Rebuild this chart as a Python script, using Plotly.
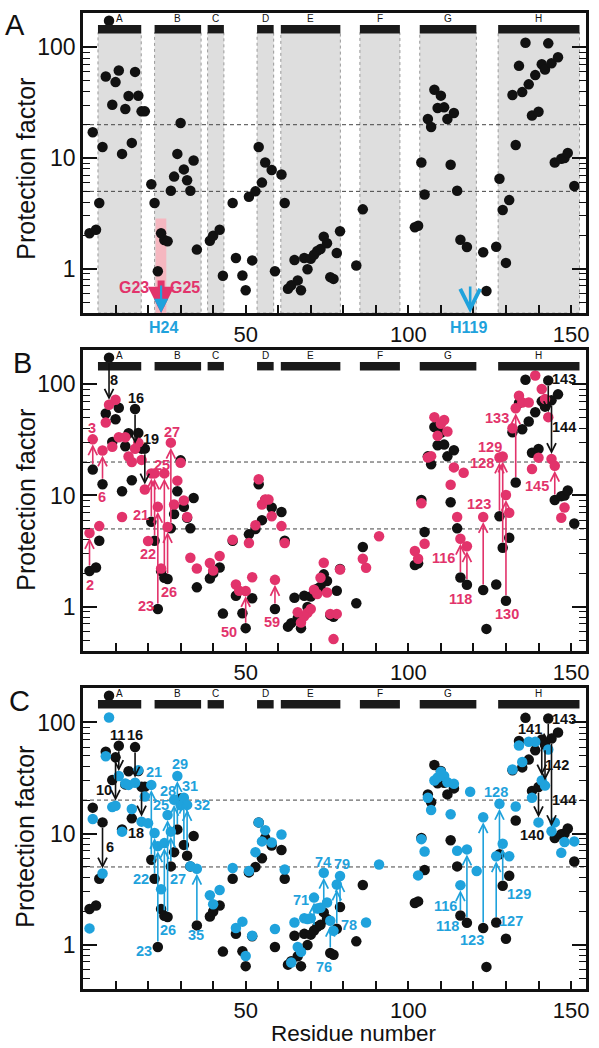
import math
import plotly.graph_objects as go

# ---------------- data ----------------
# wild type (black) protection factors, shared by all panels
wt_res = [2, 3, 4, 5, 6, 7, 8, 9, 10, 11, 12, 13, 14, 15, 16, 17, 18, 19, 21, 22,
          23, 24, 25, 26, 27, 28, 29, 30, 31, 32, 33, 34, 35, 39, 40, 42, 43, 46, 47, 49,
          50, 51, 52, 53, 54, 55, 56, 58, 59, 61, 62, 63, 64, 65, 66, 67, 68, 69, 70, 71,
          72, 73, 74, 75, 76, 77, 78, 79, 84, 86, 102, 103, 104, 105, 106, 107, 108, 109, 110, 111,
          112, 113, 114, 115, 116, 118, 123, 124, 127, 128, 129, 130, 131, 132, 133, 134, 135, 136, 137, 138,
          139, 140, 141, 142, 143, 144, 145, 146, 147, 148, 149, 151]
wt_pf = [2.09, 17.1, 2.25, 3.92, 12.6, 54.6, 174, 30.3, 48.5, 61.7, 10.9, 27.7, 36.3, 13.7, 60, 36.5, 26.4, 26.4, 5.8, 3.92,
         0.95, 2.09, 1.82, 1.77, 5.06, 6.8, 10.9, 20.7, 7.9, 6.3, 5.06, 9.5, 1.49, 1.79, 1.99, 2.25, 0.865, 3.92, 1.25, 0.87,
         0.64, 4.47, 1.19, 5.0, 12.6, 6.0, 9.1, 7.8, 0.95, 7.1, 3.92, 0.66, 0.71, 1.2, 0.785, 0.64, 1.25, 0.99, 1.23, 1.34,
         1.45, 1.51, 1.95, 1.7, 0.84, 0.81, 1.39, 2.18, 1.07, 3.44, 2.37, 2.45, 9.1, 4.69, 22.5, 19.1, 41.4, 28.3, 36.6, 28.7,
         22.5, 8.7, 25.5, 5.06, 1.83, 1.57, 1.41, 0.63, 1.58, 6.5, 3.39, 1.13, 4.17, 37.1, 13.1, 68, 39.4, 110, 46.3, 24.2,
         56.1, 26.2, 70.3, 63, 108.6, 71.8, 9.1, 81.3, 9.86, 10.0, 11.1, 5.6]

# panel B variant (pink)
b_res = [2, 3, 5, 6, 7, 8, 9, 10, 11, 12, 13, 14, 15, 16, 17, 18, 19, 20, 21, 22,
         23, 24, 25, 26, 27, 28, 29, 30, 31, 32, 33, 35, 39, 40, 42, 46, 47, 48, 50, 51,
         52, 53, 54, 55, 56, 57, 58, 59, 61, 62, 66, 67, 68, 69, 70, 71, 72, 73, 74, 75,
         76, 77, 78, 79, 86, 87, 91, 102, 103, 104, 105, 106, 107, 108, 109, 110, 111, 112, 113, 114,
         115, 116, 117, 118, 123, 128, 129, 130, 131, 132, 133, 134, 135, 137, 138, 139, 140, 141, 142, 143,
         144, 145, 147, 148]
b_pf = [4.6, 32, 5.3, 25.4, 45.4, 65.5, 27.5, 72.7, 33.4, 6.4, 33.4, 22.4, 20, 26.3, 29.9, 20.9, 11.3, 3.9, 15.8, 15.8,
        7.9, 2.2, 15.8, 5.2, 29.9, 8.3, 13.6, 19.7, 9.0, 6.4, 2.75, 2.2, 2.47, 2.11, 2.85, 4.0, 1.58, 1.39, 1.38, 3.73,
        1.84, 5.4, 14, 8.3, 9.2, 9.2, 6.5, 1.74, 5.3, 3.73, 0.89, 0.72, 0.82, 0.88, 0.95, 1.42, 1.3, 1.82, 2.48, 1.34,
        0.86, 0.51, 0.86, 2.16, 2.7, 2.24, 4.3, 3.16, 2.7, 8.5, 3.68, 22, 22.6, 50.7, 34.4, 44.2, 47.8, 37.6, 12.5, 17.9,
        6.4, 4.08, 16, 3.49, 6.4, 22, 22.4, 10.1, 7.0, 40.3, 61, 79, 68.7, 68.7, 17.3, 120, 21.9, 90.7, 73.7, 50.7,
        21.3, 18.5, 6.3, 7.8]

# panel C variant (blue)
c_res = [2, 3, 6, 7, 8, 9, 10, 11, 12, 13, 14, 15, 16, 17, 18, 19, 20, 21, 22, 23,
         24, 25, 26, 27, 28, 29, 30, 31, 32, 33, 35, 39, 40, 42, 46, 47, 49, 50, 51, 52,
         53, 54, 55, 56, 58, 59, 61, 62, 64, 65, 66, 67, 68, 69, 70, 71, 72, 73, 74, 75,
         76, 77, 78, 79, 87, 91, 103, 104, 105, 106, 107, 108, 109, 110, 111, 112, 113, 114, 115, 116,
         118, 119, 121, 123, 127, 128, 129, 131, 132, 133, 134, 135, 137, 138, 139, 140, 141, 142, 143, 144,
         145, 147, 148, 151]
c_pf = [1.4, 13.5, 4.37, 49.6, 111, 17.3, 17.8, 32.9, 10.4, 28.2, 27.4, 16.6, 28.7, 37.2, 12.8, 21.5, 12.4, 27.4, 10.1, 7.7,
        3.15, 8.2, 14.7, 10.4, 20.1, 32.9, 18, 21, 18.1, 5.08, 4.82, 2.78, 2.31, 3.1, 4.9, 1.41, 1.61, 0.79, 4.6, 1.2,
        6.8, 12.6, 8.5, 10.7, 8.3, 1.38, 9.8, 4.75, 0.69, 1.58, 0.95, 0.86, 1.73, 1.7, 1.73, 2.65, 2.11, 2.15, 4.44, 2.39,
        1.64, 1.33, 3.48, 4.14, 1.58, 5.26, 4.2, 8.9, 6.9, 21, 16.3, 30, 32, 36, 33, 29, 14.9, 28, 7.0, 3.43,
        7.2, 23.8, 4.6, 14, 6.25, 18.5, 8.1, 6.25, 37.7, 17.5, 62, 44, 67, 21, 67, 12.6, 30, 27, 57, 10.5,
        12.6, 6.7, 8.4, 8.5]

# helices
helix_names = ["A", "B", "C", "D", "E", "F", "G", "H"]
helix_start = [4.6, 22.0, 38.3, 53.5, 60.8, 85.1, 103.5, 127.6]
helix_end = [17.9, 36.3, 43.3, 58.6, 79.1, 97.4, 120.9, 152.6]

# dashed thresholds
thresholds = [20, 5]

# arrows (residues) : up = variant colour, down = black
b_up = [2, 3, 6, 21, 22, 23, 25, 26, 27, 50, 59, 116, 118, 123, 128, 129, 130, 133, 145]
b_down = [8, 16, 19, 143, 144]
c_up = [21, 22, 23, 25, 26, 27, 28, 29, 31, 32, 35, 71, 74, 76, 78, 79, 116, 118, 123, 127, 128, 129]
c_down = [6, 10, 11, 16, 18, 140, 141, 142, 143, 144]

# panel A markers
mark_res_pink = 24
mark_res_blue = [24, 119]
pink_box = (22.3, 25.6, 2.85)

# ---------------- layout helpers (label placement: residue, log10 y) ----------------
LBL_B = {8: (9.5, 2.04), 16: (16.4, 1.877), 19: (21.0, 1.506), 143: (147.8, 2.048), 144: (147.8, 1.62),
         2: (2.0, 0.19), 3: (2.9, 1.605), 6: (5.7, 0.988), 21: (17.9, 0.822), 22: (19.9, 0.476),
         23: (19.4, 0.009), 25: (24.3, 1.274), 26: (26.4, 0.13), 27: (27.3, 1.575), 50: (45.0, -0.226),
         59: (58.0, -0.14), 116: (110.8, 0.437), 118: (116.1, 0.069), 123: (121.6, 0.922),
         128: (122.7, 1.289), 129: (125.0, 1.434), 130: (130.2, -0.066), 133: (127.3, 1.696),
         145: (139.4, 1.084)}
LBL_C = {6: (8.2, 0.879), 10: (6.3, 1.392), 11: (10.7, 1.89), 16: (16.0, 1.89), 18: (16.4, 1.004),
         140: (138.1, 0.99), 141: (137.4, 1.943), 142: (145.7, 1.62), 143: (147.8, 2.027), 144: (147.8, 1.30),
         21: (21.7, 1.556), 22: (17.9, 0.593), 23: (18.7, -0.054), 25: (24.0, 1.255), 26: (26.1, 0.134),
         27: (29.3, 0.593), 28: (26.1, 1.386), 29: (29.9, 1.63), 31: (33.0, 1.428), 32: (36.5, 1.258),
         35: (34.8, 0.086), 71: (67.0, 0.40), 74: (73.8, 0.74), 76: (74.1, -0.198), 78: (81.7, 0.175),
         79: (79.6, 0.726), 116: (111.5, 0.349), 118: (112.0, 0.17), 123: (119.5, 0.045),
         127: (131.7, 0.209), 128: (126.8, 1.377), 129: (134.0, 0.453)}

FONT = "Arial, 'Liberation Sans', Helvetica, sans-serif"
PINK = "#E2336B"
BLUE = "#1FA2DC"
BLACK = "#111111"
GRAY = "#DEDEDE"
X_RANGE = [0, 154.6]
Y_RANGE = [-0.4, 2.31]
DOMAINS = {1: [0.6932, 1.0], 2: [0.3476, 0.6555], 3: [0.002, 0.3098]}

fig = go.Figure()


def ax_names(i):
    s = "" if i == 1 else str(i)
    return "x" + s, "y" + s


wt = dict(zip(wt_res, wt_pf))
pb = dict(zip(b_res, b_pf))
pc = dict(zip(c_res, c_pf))

annotations = []
shapes = []

for i in (1, 2, 3):
    xa, ya = ax_names(i)
    for t in thresholds:
        fig.add_trace(go.Scatter(x=X_RANGE, y=[t, t], mode="lines", xaxis=xa, yaxis=ya,
                                 line=dict(color="#444444", width=1, dash="4px,3px"),
                                 hoverinfo="skip", showlegend=False))
    fig.add_trace(go.Scatter(x=wt_res, y=wt_pf, mode="markers", xaxis=xa, yaxis=ya,
                             marker=dict(size=10.5, color=BLACK), showlegend=False))
    if i == 2:
        fig.add_trace(go.Scatter(x=b_res, y=b_pf, mode="markers", xaxis=xa, yaxis=ya,
                                 marker=dict(size=10.5, color=PINK), showlegend=False))
    if i == 3:
        fig.add_trace(go.Scatter(x=c_res, y=c_pf, mode="markers", xaxis=xa, yaxis=ya,
                                 marker=dict(size=10.5, color=BLUE), showlegend=False))

    # helix bars and letters
    for name, s, e in zip(helix_names, helix_start, helix_end):
        if i == 1:
            shapes.append(dict(type="rect", xref=xa, yref=ya + " domain", x0=s, x1=e, y0=0, y1=0.935,
                               fillcolor=GRAY, line=dict(color="#9a9a9a", width=1, dash="dot"),
                               layer="below"))
        shapes.append(dict(type="rect", xref=xa, yref=ya + " domain", x0=s, x1=e, y0=0.932, y1=0.960,
                           fillcolor="#1a1a1a", line=dict(width=0), layer="above"))
        annotations.append(dict(x=(s + e) / 2, y=0.958, xref=xa, yref=ya + " domain", text=name,
                                yanchor="bottom", showarrow=False,
                                font=dict(size=10, color="#111", family=FONT)))


def add_arrows(i, ups, downs, var, color, labels):
    xa, ya = ax_names(i)
    for group, col in ((ups, color), (downs, "#111111")):
        for r in group:
            annotations.append(dict(x=r, y=math.log10(var[r]), ax=r, ay=math.log10(wt[r]),
                                    xref=xa, yref=ya, axref=xa, ayref=ya, text="", showarrow=True,
                                    arrowhead=5, arrowsize=1.1, arrowwidth=1.6, arrowcolor=col,
                                    standoff=5, startstandoff=4))
            lx, ly = labels[r]
            annotations.append(dict(x=lx, y=ly, xref=xa, yref=ya, text="<b>%d</b>" % r, showarrow=False,
                                    font=dict(size=14.5, color=col, family=FONT)))


add_arrows(2, b_up, b_down, pb, PINK, LBL_B)
add_arrows(3, c_up, c_down, pc, BLUE, LBL_C)

# panel A highlights
shapes.append(dict(type="rect", xref="x", yref="y", x0=pink_box[0], x1=pink_box[1], y0=0.3,
                   y1=pink_box[2], fillcolor="#F5B7C0", line=dict(width=0), layer="below"))
annotations.append(dict(x=mark_res_pink, y=Y_RANGE[0], xref="x", yref="y", ax=0, ay=-34, text="",
                        showarrow=True, arrowhead=2, arrowsize=0.75, arrowwidth=7, arrowcolor=PINK))
annotations.append(dict(x=mark_res_blue[0], y=Y_RANGE[0], xref="x", yref="y", ax=0, ay=-29, text="",
                        showarrow=True, arrowhead=2, arrowsize=1.3, arrowwidth=2.2, arrowcolor=BLUE))
annotations.append(dict(x=mark_res_blue[1], y=Y_RANGE[0], xref="x", yref="y", ax=0, ay=-28, text="",
                        showarrow=True, arrowhead=5, arrowsize=1.5, arrowwidth=2.6, arrowcolor=BLUE))
annotations.append(dict(x=24.8, y=0.689, xref="x", yref="paper", text="<b>H24</b>", showarrow=False,
                        font=dict(size=16, color=BLUE, family=FONT)))
annotations.append(dict(x=118.4, y=0.689, xref="x", yref="paper", text="<b>H119</b>", showarrow=False,
                        font=dict(size=16, color=BLUE, family=FONT)))
annotations.append(dict(x=15.6, y=-0.17, xref="x", yref="y", text="<b>G23</b>", showarrow=False,
                        font=dict(size=16, color=PINK, family=FONT)))
annotations.append(dict(x=31.5, y=-0.17, xref="x", yref="y", text="<b>G25</b>", showarrow=False,
                        font=dict(size=16, color=PINK, family=FONT)))

# panel letters and titles
for letter, px, py in (("A", -0.135, 0.988), ("B", -0.121, 0.642), ("C", -0.127, 0.2966)):
    annotations.append(dict(x=px, y=py, xref="paper", yref="paper", text=letter, showarrow=False,
                            xanchor="center", yanchor="middle", font=dict(size=29, color="#111", family=FONT)))
for py in (0.841, 0.5025, 0.158):
    annotations.append(dict(x=-0.115, y=py, xref="paper", yref="paper", text="Protection factor",
                            textangle=-90, showarrow=False, xanchor="center", yanchor="middle",
                            font=dict(size=25, color="#111", family=FONT)))
annotations.append(dict(x=0.538, y=-0.0438, xref="paper", yref="paper", text="Residue number",
                        showarrow=False, xanchor="center", yanchor="middle",
                        font=dict(size=22.5, color="#111", family=FONT)))

layout = dict(width=599, height=1048, margin=dict(l=83, r=12, t=10, b=57),
              paper_bgcolor="white", plot_bgcolor="white", showlegend=False,
              font=dict(family=FONT, color="#111"), annotations=annotations, shapes=shapes)

minor_x = [v for v in range(10, 151, 10) if v % 50 != 0]
minor_y = [0.4, 0.5, 0.6, 0.7, 0.8, 0.9, 2, 3, 4, 5, 6, 7, 8, 9, 20, 30, 40, 50, 60, 70, 80, 90, 200]
for i in (1, 2, 3):
    s = "" if i == 1 else str(i)
    layout["xaxis" + s] = dict(domain=[0, 1], range=X_RANGE, anchor="y" + s, tickvals=[50, 100, 150],
                               ticks="inside", ticklen=8, tickwidth=1.5, tickcolor="#111",
                               minor=dict(tickvals=minor_x, ticks="inside", ticklen=8, tickwidth=1.5,
                                          tickcolor="#111"),
                               showline=True, linewidth=2.5, linecolor="#111", mirror=True,
                               showgrid=False, zeroline=False, tickfont=dict(size=22, family=FONT))
    layout["yaxis" + s] = dict(domain=DOMAINS[i], type="log", range=Y_RANGE, anchor="x" + s,
                               tickvals=[1, 10, 100], ticktext=["1", "10", "100"],
                               ticks="inside", ticklen=14, tickwidth=1.5, tickcolor="#111",
                               minor=dict(tickvals=minor_y, ticks="inside", ticklen=7, tickwidth=1.2,
                                          tickcolor="#111"),
                               showline=True, linewidth=2.5, linecolor="#111", mirror="ticks",
                               showgrid=False, zeroline=False, tickfont=dict(size=23, family=FONT))

fig.update_layout(**layout)
fig.write_html("out.html", config={"displayModeBar": False},
               post_script="document.body.style.margin='0px';")
